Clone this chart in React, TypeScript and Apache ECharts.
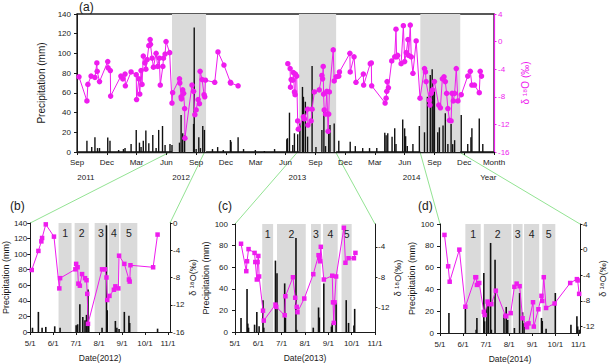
import React, { useEffect, useRef } from 'react';
import * as echarts from 'echarts';

const FONT = '"Liberation Sans", Arial, Helvetica, sans-serif';
const INK = '#1a1a1a';
const MAGENTA = '#ee1cee';
const SHADE = '#dadada';
const LINK = '#93e393';

// ---------- overview axis labels ----------
const overviewMonths = ['Sep', 'Dec', 'Mar', 'Jun'];
const overviewYearLabels = ['2011', '2012', '2013', '2014', 'Year'];
const overviewYearDates = ['2011-09-28', '2012-07-16', '2013-07-07', '2014-06-22', '2015-02-13'];
const seasonTickLabels = ['5/1', '6/1', '7/1', '8/1', '9/1', '10/1', '11/1'];
const periodNames = ['1', '2', '3', '4', '5'];

// ---------- overview: Sep 2011 – Feb 2015 ----------
const rainAll: [string, number][] = [
  ['2011-10-01', 11.5], ['2011-10-16', 5], ['2011-10-26', 15], ['2011-11-03', 4], ['2011-11-09', 4],
  ['2011-12-04', 14.6], ['2011-12-11', 11.5], ['2012-01-07', 2], ['2012-01-22', 3], ['2012-01-27', 4],
  ['2012-02-14', 8], ['2012-02-29', 22.4], ['2012-03-10', 9.5], ['2012-03-15', 5], ['2012-03-22', 11.5],
  ['2012-03-30', 21.7], ['2012-04-08', 9], ['2012-04-20', 17.3], ['2012-04-30', 4], ['2012-05-08', 22.4],
  ['2012-05-20', 26.4], ['2012-05-28', 7], ['2012-06-12', 8], ['2012-06-18', 7], ['2012-07-11', 9.5],
  ['2012-07-16', 37.6], ['2012-07-21', 19], ['2012-07-27', 17], ['2012-08-24', 28.5], ['2012-08-26', 126.4],
  ['2012-09-01', 3], ['2012-09-09', 15], ['2012-09-14', 4], ['2012-09-21', 26.4], ['2012-09-26', 22.4],
  ['2012-10-21', 3], ['2012-11-06', 5], ['2012-11-23', 2], ['2012-12-15', 12.2], ['2012-12-17', 10.5],
  ['2013-01-08', 15], ['2013-01-25', 3], ['2013-02-28', 2], ['2013-03-28', 1], ['2013-04-28', 3],
  ['2013-06-05', 12.9], ['2013-06-07', 14], ['2013-06-13', 39.9], ['2013-06-23', 7], ['2013-06-28', 19],
  ['2013-07-08', 18], ['2013-07-15', 29], ['2013-07-23', 66], ['2013-07-26', 56], ['2013-08-01', 51],
  ['2013-08-08', 15.6], ['2013-08-22', 87.2], ['2013-09-03', 5], ['2013-09-21', 22.3], ['2013-09-27', 43.3],
  ['2013-10-02', 6], ['2013-10-12', 19.6], ['2013-10-16', 27.4], ['2013-10-29', 29], ['2013-11-12', 11.5],
  ['2013-12-17', 10.5], ['2014-01-02', 6], ['2014-01-25', 4], ['2014-02-14', 4], ['2014-03-07', 4],
  ['2014-04-01', 19.6], ['2014-04-05', 17], ['2014-04-10', 19], ['2014-04-23', 15.5], ['2014-05-01', 24],
  ['2014-05-05', 8], ['2014-05-26', 33], ['2014-06-01', 24], ['2014-06-04', 16], ['2014-06-09', 6],
  ['2014-06-26', 8], ['2014-07-16', 26.4], ['2014-08-01', 20], ['2014-08-10', 56], ['2014-08-19', 78],
  ['2014-08-25', 84], ['2014-08-28', 60], ['2014-09-01', 63], ['2014-09-11', 20], ['2014-09-16', 25],
  ['2014-09-27', 27], ['2014-10-04', 39.3], ['2014-10-12', 8], ['2014-10-22', 28.4], ['2014-10-27', 8],
  ['2014-11-02', 12], ['2014-11-22', 37.5], ['2014-12-12', 8], ['2014-12-22', 15], ['2014-12-25', 24],
  ['2015-01-17', 34], ['2015-01-28', 8],
];

const isoAll: [string, number][] = [
  ['2011-09-07', -5.1], ['2011-10-01', -8.6], ['2011-10-04', -6.2], ['2011-10-14', -5.0], ['2011-10-26', -5.2],
  ['2011-11-01', -3.1], ['2011-11-02', -4.3], ['2011-11-09', -5.8], ['2011-12-04', -2.9], ['2011-12-05', -3.8],
  ['2011-12-12', -4.2], ['2011-12-13', -7.9], ['2012-01-14', -5.0], ['2012-01-20', -5.4], ['2012-01-27', -4.7],
  ['2012-01-28', -6.4], ['2012-02-14', -4.4], ['2012-02-29', -4.8], ['2012-03-01', -8.4], ['2012-03-08', -5.4],
  ['2012-03-11', -7.6], ['2012-03-15', -4.2], ['2012-03-18', -6.2], ['2012-03-22', -2.1], ['2012-03-27', -3.1],
  ['2012-03-30', -4.0], ['2012-04-03', -2.6], ['2012-04-08', -0.6], ['2012-04-12', 0.3], ['2012-04-13', -0.4],
  ['2012-04-18', -2.4], ['2012-04-22', -3.7], ['2012-04-30', -1.7], ['2012-05-05', -3.6], ['2012-05-10', -2.4],
  ['2012-05-13', -6.3], ['2012-05-21', -3.6], ['2012-05-23', -2.4], ['2012-05-28', -1.8], ['2012-05-31', 0.0],
  ['2012-06-11', -1.6], ['2012-06-18', -8.9], ['2012-06-20', -7.4], ['2012-07-11', -5.4], ['2012-07-12', -6.0],
  ['2012-07-16', -8.0], ['2012-07-17', -8.3], ['2012-07-21', -7.0], ['2012-07-24', -7.5], ['2012-07-27', -9.7],
  ['2012-07-28', -14.0], ['2012-08-19', -6.3], ['2012-08-24', -7.2], ['2012-08-28', -10.6], ['2012-09-01', -9.9],
  ['2012-09-07', -8.4], ['2012-09-11', -9.0], ['2012-09-13', -4.3], ['2012-09-19', -5.5], ['2012-09-25', -7.7],
  ['2012-09-27', -8.0], ['2012-09-29', -5.6], ['2012-10-28', -5.9], ['2012-11-07', -1.5], ['2012-11-25', -3.4],
  ['2012-12-15', -5.9], ['2012-12-16', -6.0], ['2013-01-08', -6.4],
  ['2013-06-08', -3.2], ['2013-06-15', -3.9], ['2013-06-16', -6.6], ['2013-06-18', -5.5], ['2013-06-23', -5.6],
  ['2013-06-25', -4.5], ['2013-06-28', -7.3], ['2013-06-30', -7.7], ['2013-07-01', -4.7], ['2013-07-05', -5.0],
  ['2013-07-08', -11.5], ['2013-07-10', -12.7], ['2013-07-26', -10.9], ['2013-07-29', -11.2], ['2013-08-08', -9.8],
  ['2013-08-09', -12.1], ['2013-08-19', -11.5], ['2013-08-22', -9.8], ['2013-08-29', -7.3], ['2013-09-13', -7.0],
  ['2013-09-21', -4.9], ['2013-09-23', -5.4], ['2013-09-25', -3.6], ['2013-09-26', -7.6], ['2013-09-28', -9.9],
  ['2013-10-02', -10.5], ['2013-10-06', -7.2], ['2013-10-10', -13.0], ['2013-10-12', -10.5], ['2013-10-14', -7.3],
  ['2013-10-26', -1.2], ['2013-10-29', -5.7], ['2013-11-04', -5.1], ['2013-11-12', -5.0], ['2013-11-14', -4.4],
  ['2013-12-16', -1.7], ['2013-12-17', -4.4], ['2013-12-29', -2.2], ['2014-01-04', -5.9], ['2014-01-27', -4.7],
  ['2014-01-28', -6.3], ['2014-02-16', -3.2], ['2014-02-19', -3.1], ['2014-02-20', -6.4], ['2014-04-02', -8.9],
  ['2014-04-05', -8.2], ['2014-04-07', -7.2], ['2014-04-08', -5.8], ['2014-04-12', -6.7], ['2014-04-22', -2.8],
  ['2014-05-01', -2.2], ['2014-05-05', 1.8], ['2014-05-07', -2.2], ['2014-05-10', -2.0], ['2014-05-21', -3.2],
  ['2014-05-28', 2.3], ['2014-06-01', -2.9], ['2014-06-06', -1.6], ['2014-06-11', 0.3], ['2014-06-13', -2.0],
  ['2014-06-18', 2.4], ['2014-06-21', -2.2], ['2014-06-26', -4.6], ['2014-07-06', 0.1], ['2014-07-18', -8.2],
  ['2014-08-01', -3.9], ['2014-08-04', -4.4], ['2014-08-06', -5.8], ['2014-08-16', -8.5], ['2014-08-18', -9.2],
  ['2014-08-22', -7.5], ['2014-08-26', -7.0], ['2014-09-01', -5.8], ['2014-09-14', -9.2], ['2014-09-19', -9.6],
  ['2014-09-25', -5.4], ['2014-09-30', -5.1], ['2014-10-04', -5.8], ['2014-10-08', -7.5], ['2014-10-12', -9.7],
  ['2014-10-17', -11.4], ['2014-10-22', -11.5], ['2014-10-25', -7.5], ['2014-10-29', -8.6], ['2014-11-02', -7.5],
  ['2014-11-07', -3.9], ['2014-11-12', -8.6], ['2014-11-22', -7.7], ['2014-12-12', -5.0], ['2014-12-20', -4.3],
  ['2014-12-25', -6.3], ['2015-01-02', -6.3], ['2015-01-17', -7.4], ['2015-01-20', -4.3], ['2015-01-24', -5.0],
];

const wetSeasonsAll: [string, string][] = [
  ['2012-06-18', '2012-10-01'], ['2013-07-12', '2013-11-04'], ['2014-07-19', '2014-11-19'],
];
// where the zoom connectors leave the overview axis
const zoomAnchorsAll: [string, string][] = [
  ['2012-06-06', '2012-09-25'], ['2013-07-05', '2013-11-04'], ['2014-07-19', '2014-11-21'],
];

// ---------- 2012 season ----------
const rain2012: [string, number][] = [
  ['2012-05-04', 5.6], ['2012-05-12', 25.8], ['2012-05-17', 5.6], ['2012-05-22', 6.5], ['2012-06-03', 7.3],
  ['2012-06-10', 5.6], ['2012-07-01', 8.6], ['2012-07-03', 9.9], ['2012-07-06', 35.8], ['2012-07-10', 19.4],
  ['2012-07-13', 15], ['2012-07-15', 22], ['2012-07-17', 54.7], ['2012-07-18', 8.6], ['2012-08-05', 5.6],
  ['2012-08-11', 137], ['2012-08-12', 28], ['2012-08-23', 14.2], ['2012-08-25', 5.6], ['2012-08-28', 4],
  ['2012-09-04', 25.8], ['2012-09-10', 21], ['2012-09-11', 11.6], ['2012-10-18', 4.3],
];
const iso2012: [string, number][] = [
  ['2012-05-03', -6.9], ['2012-05-12', -4.1], ['2012-05-16', -2.7], ['2012-05-17', -2.2], ['2012-05-22', -0.2],
  ['2012-06-02', -2.0], ['2012-06-09', -9.6], ['2012-06-10', -8.1], ['2012-06-30', -6.8], ['2012-07-01', -6.0],
  ['2012-07-03', -6.5], ['2012-07-04', -8.9], ['2012-07-06', -9.2], ['2012-07-09', -7.5], ['2012-07-13', -8.1],
  ['2012-07-15', -8.4], ['2012-07-16', -10.4], ['2012-07-17', -14.8], ['2012-08-05', -6.8], ['2012-08-09', -6.8],
  ['2012-08-11', -8.0], ['2012-08-12', -11.3], ['2012-08-15', -10.7], ['2012-08-21', -9.8], ['2012-08-23', -9.3],
  ['2012-08-27', -9.6], ['2012-08-28', -4.8], ['2012-09-04', -6.0], ['2012-09-10', -8.3], ['2012-09-11', -8.6],
  ['2012-09-12', -6.2], ['2012-10-12', -6.5], ['2012-10-18', -1.7],
];
const periods2012: [string, string][] = [
  ['2012-06-08', '2012-06-25'], ['2012-06-29', '2012-07-18'], ['2012-07-26', '2012-08-12'],
  ['2012-08-14', '2012-08-28'], ['2012-08-30', '2012-09-21'],
];

// ---------- 2013 season ----------
const rain2013: [string, number][] = [
  ['2013-05-09', 13], ['2013-05-17', 39.8], ['2013-05-18', 7.8], ['2013-05-19', 4], ['2013-05-27', 6.8],
  ['2013-05-30', 18.6], ['2013-06-02', 5.3], ['2013-06-07', 29.5], ['2013-06-08', 4], ['2013-06-23', 66.1],
  ['2013-06-25', 54.3], ['2013-07-05', 45], ['2013-07-06', 13], ['2013-07-20', 87], ['2013-07-21', 2],
  ['2013-08-12', 4], ['2013-08-19', 22.7], ['2013-08-20', 13.4], ['2013-08-26', 45], ['2013-09-05', 5],
  ['2013-09-06', 8], ['2013-09-11', 27], ['2013-09-24', 29.5], ['2013-09-27', 8.4], ['2013-10-04', 6],
  ['2013-10-05', 21.4],
];
const iso2013: [string, number][] = [
  ['2013-05-09', -3.6], ['2013-05-16', -7.2], ['2013-05-17', -5.9], ['2013-05-19', -4.3], ['2013-05-27', -4.8],
  ['2013-05-28', -6.0], ['2013-05-30', -8.3], ['2013-05-31', -6.0], ['2013-06-01', -5.2], ['2013-06-02', -7.9],
  ['2013-06-07', -12.4], ['2013-06-08', -13.7], ['2013-06-23', -11.6], ['2013-06-24', -11.9], ['2013-07-05', -13.0],
  ['2013-07-06', -10.5], ['2013-07-16', -8.0], ['2013-07-19', -10.7], ['2013-07-21', -11.9], ['2013-07-22', -12.6],
  ['2013-07-31', -10.8], ['2013-08-12', -7.6], ['2013-08-19', -5.1], ['2013-08-20', -5.4], ['2013-08-21', -5.9],
  ['2013-08-22', -4.0], ['2013-08-26', -8.3], ['2013-09-06', -7.8], ['2013-09-07', -11.3], ['2013-09-08', -14.0],
  ['2013-09-09', -11.3], ['2013-09-11', -7.9], ['2013-09-21', -1.5], ['2013-09-23', -6.1], ['2013-09-27', -5.5],
  ['2013-10-04', -5.5], ['2013-10-06', -4.8],
];
const periods2013: [string, string][] = [
  ['2013-06-06', '2013-06-20'], ['2013-06-25', '2013-08-02'], ['2013-08-09', '2013-08-22'],
  ['2013-08-25', '2013-09-13'], ['2013-09-18', '2013-10-01'],
];

// ---------- 2014 season ----------
const rain2014: [string, number][] = [
  ['2014-05-13', 18.3], ['2014-06-04', 22], ['2014-06-18', 3], ['2014-06-19', 13.8], ['2014-06-28', 55],
  ['2014-06-29', 10.7], ['2014-07-02', 27.5], ['2014-07-04', 28], ['2014-07-07', 82.6], ['2014-07-08', 3],
  ['2014-07-13', 67.3], ['2014-07-25', 16.8], ['2014-07-28', 23.9], ['2014-07-30', 12], ['2014-08-08', 4.6],
  ['2014-08-15', 36.7], ['2014-08-19', 19], ['2014-08-21', 9], ['2014-09-13', 13.8], ['2014-09-14', 11],
  ['2014-09-19', 4], ['2014-10-01', 36.7], ['2014-10-22', 7.6], ['2014-10-30', 15.3], ['2014-10-31', 6],
  ['2014-11-02', 3],
];
const iso2014: [string, number][] = [
  ['2014-05-07', 2.3], ['2014-05-12', -2.6], ['2014-05-14', -5.0], ['2014-05-27', 0.0], ['2014-06-04', -8.9],
  ['2014-06-17', -4.3], ['2014-06-18', -4.3], ['2014-06-19', -5.5], ['2014-06-22', -5.2], ['2014-06-28', -9.7],
  ['2014-06-29', -10.2], ['2014-07-03', -8.1], ['2014-07-04', -8.5], ['2014-07-08', -8.5], ['2014-07-14', -6.4],
  ['2014-07-27', -10.3], ['2014-07-28', -10.4], ['2014-08-03', -9.9], ['2014-08-08', -5.8], ['2014-08-11', -5.3],
  ['2014-08-15', -5.7], ['2014-08-19', -10.7], ['2014-08-24', -11.7], ['2014-08-25', -12.1], ['2014-08-27', -11.5],
  ['2014-09-02', -8.2], ['2014-09-03', -12.0], ['2014-09-09', -9.3], ['2014-09-13', -7.2], ['2014-09-14', -8.0],
  ['2014-09-16', -4.3], ['2014-09-19', -9.1], ['2014-09-30', -8.4], ['2014-10-21', -5.2], ['2014-10-30', -4.6],
  ['2014-10-31', -4.8], ['2014-11-02', -6.9],
];
const periods2014: [string, string][] = [
  ['2014-06-04', '2014-06-24'], ['2014-06-28', '2014-08-04'], ['2014-08-06', '2014-08-19'],
  ['2014-08-21', '2014-09-10'], ['2014-09-14', '2014-10-01'],
];

// ---------- helpers ----------
// fractional months elapsed since the first day of (y0, m0)
function monthsFrom(date: string, y0: number, m0: number): number {
  const [y, m, d] = date.split('-').map(Number);
  const daysInMonth = new Date(y, m, 0).getDate();
  return (y - y0) * 12 + (m - m0) + (d - 1) / daysInMonth;
}

function toBars(points: [string, number][], y0: number, m0: number) {
  return points.map(([d, v]) => [monthsFrom(d, y0, m0), v]);
}

// breaks the line wherever sampling pauses for longer than maxGap months
function toLine(points: [string, number][], y0: number, m0: number, maxGap = 3) {
  const out: any[] = [];
  let prev: number | null = null;
  for (const [d, v] of points) {
    const x = monthsFrom(d, y0, m0);
    if (prev !== null && x - prev > maxGap) out.push([(x + prev) / 2, null]);
    out.push([x, v]);
    prev = x;
  }
  return out;
}

function toAreas(periods: [string, string][], y0: number, m0: number, named: boolean) {
  return periods.map(([s, e], i) => [
    { name: named ? periodNames[i] : '', xAxis: monthsFrom(s, y0, m0) },
    { xAxis: monthsFrom(e, y0, m0) },
  ]);
}

const label = (extra: any = {}) => ({ fontFamily: FONT, color: INK, fontSize: 8, ...extra });

// ---------- layout ----------
const OVERVIEW = { left: 77, top: 14, width: 417, height: 138, xMax: 42 };

const SEASONS = [
  {
    tag: '(b)', year: 2012, rain: rain2012, iso: iso2012, periods: periods2012,
    grid: { left: 28, top: 223, width: 142, height: 109 }, xMax: 6.09,
    rainMax: 140, isoMin: -16, isoMax: 0, isoTicks: [-16, -12, -8, -4, 0],
    leftMargin: 3, leftGap: 12, rightGap: 15,
  },
  {
    tag: '(c)', year: 2013, rain: rain2013, iso: iso2013, periods: periods2013,
    grid: { left: 235, top: 224, width: 140, height: 108 }, xMax: 6.0,
    rainMax: 100, isoMin: -15.2, isoMax: -1, isoTicks: [-12, -8, -4],
    leftMargin: 7, leftGap: 19, rightGap: 17,
  },
  {
    tag: '(d)', year: 2014, rain: rain2014, iso: iso2014, periods: periods2014,
    grid: { left: 440, top: 224, width: 140, height: 109 }, xMax: 6.07,
    rainMax: 100, isoMin: -13, isoMax: 4, isoTicks: [-12, -8, -4, 0, 4],
    leftMargin: 6, leftGap: 19, rightGap: 18,
  },
];

const axisBlack = { show: true, lineStyle: { color: INK, width: 1 } };

function buildOption() {
  const grid: any[] = [
    {
      left: OVERVIEW.left, top: OVERVIEW.top, width: OVERVIEW.width, height: OVERVIEW.height,
      show: true, borderColor: '#222', borderWidth: 1.3, backgroundColor: 'transparent',
    },
    ...SEASONS.map((s) => ({ ...s.grid })),
  ];

  const xAxis: any[] = [
    {
      gridIndex: 0, type: 'value', min: 0, max: OVERVIEW.xMax, interval: 3,
      axisLine: { show: true, onZero: false, lineStyle: { color: INK, width: 1.3 } },
      axisTick: { show: true, length: 3, lineStyle: { color: INK } },
      axisLabel: label({
        margin: 6,
        formatter: (v: number) => (v >= OVERVIEW.xMax ? 'Month' : overviewMonths[Math.round(v / 3) % 4]),
      }),
      splitLine: { show: false },
    },
    ...SEASONS.map((s, i) => ({
      gridIndex: i + 1, type: 'value', min: 0, max: s.xMax, interval: 1,
      axisLine: { ...axisBlack, onZero: false },
      axisTick: { show: true, length: 3, lineStyle: { color: INK }, customValues: [0, 1, 2, 3, 4, 5, 6] },
      axisLabel: label({
        margin: 7,
        customValues: [0, 1, 2, 3, 4, 5, 6],
        formatter: (v: number) => (Math.abs(v - Math.round(v)) < 1e-6 ? seasonTickLabels[Math.round(v)] ?? '' : ''),
      }),
      splitLine: { show: false },
      name: `Date(${s.year})`, nameLocation: 'middle', nameGap: 21,
      nameTextStyle: label({ fontSize: 8.5 }),
    })),
  ];

  const yAxis: any[] = [
    {
      gridIndex: 0, type: 'value', min: 0, max: 140, interval: 20, position: 'left',
      axisLine: axisBlack, axisTick: { show: true, length: 3, lineStyle: { color: INK } },
      axisLabel: label({ margin: 6 }), splitLine: { show: false },
      name: 'Precipitation (mm)', nameLocation: 'middle', nameGap: 22,
      nameTextStyle: label({ fontSize: 10 }),
    },
    {
      gridIndex: 0, type: 'value', min: -16, max: 4, interval: 4, position: 'right',
      axisLine: { show: true, lineStyle: { color: MAGENTA, width: 1.2 } },
      axisTick: { show: true, length: 2.5, lineStyle: { color: MAGENTA } },
      axisLabel: label({ margin: 4, color: MAGENTA }), splitLine: { show: false },
      name: 'δ ¹⁸O (‰)', nameLocation: 'middle', nameGap: 20,
      nameTextStyle: label({ fontSize: 10, color: MAGENTA }),
    },
  ];
  SEASONS.forEach((s, i) => {
    yAxis.push({
      gridIndex: i + 1, type: 'value', min: 0, max: s.rainMax, interval: 20, position: 'left',
      axisLine: axisBlack, axisTick: { show: true, length: 3, lineStyle: { color: INK } },
      axisLabel: label({ margin: s.leftMargin }), splitLine: { show: false },
      name: 'Precipitation (mm)', nameLocation: 'middle', nameGap: s.leftGap,
      nameTextStyle: label({ fontSize: 9 }),
    });
    yAxis.push({
      gridIndex: i + 1, type: 'value', min: s.isoMin, max: s.isoMax, position: 'right',
      axisLine: axisBlack,
      axisTick: { show: true, length: 2.5, lineStyle: { color: INK }, customValues: s.isoTicks },
      axisLabel: label({ margin: 3, customValues: s.isoTicks }), splitLine: { show: false },
      name: 'δ ¹⁸O(‰)', nameLocation: 'middle', nameGap: s.rightGap,
      nameTextStyle: label({ fontSize: 9 }),
    });
  });

  const series: any[] = [
    {
      type: 'line', xAxisIndex: 0, yAxisIndex: 0, data: [], z: 1, silent: true,
      markArea: {
        silent: true, itemStyle: { color: SHADE }, label: { show: false },
        data: toAreas(wetSeasonsAll, 2011, 9, false),
      },
    },
    {
      type: 'bar', xAxisIndex: 0, yAxisIndex: 0, data: toBars(rainAll, 2011, 9),
      barWidth: 1.4, itemStyle: { color: '#111' }, z: 2, silent: true,
    },
    {
      type: 'line', xAxisIndex: 0, yAxisIndex: 1, data: toLine(isoAll, 2011, 9),
      symbol: 'circle', symbolSize: 5.5, showAllSymbol: true,
      lineStyle: { color: MAGENTA, width: 1 }, itemStyle: { color: MAGENTA }, z: 3, silent: true,
    },
  ];
  SEASONS.forEach((s, i) => {
    const xi = i + 1;
    series.push({
      type: 'line', xAxisIndex: xi, yAxisIndex: 2 + i * 2, data: [], z: 1, silent: true,
      markArea: {
        silent: true, itemStyle: { color: SHADE },
        label: { show: true, position: 'insideTop', distance: 4, color: '#222', fontSize: 10.5, fontFamily: FONT },
        data: toAreas(s.periods, s.year, 5, true),
      },
    });
    series.push({
      type: 'bar', xAxisIndex: xi, yAxisIndex: 2 + i * 2, data: toBars(s.rain, s.year, 5),
      barWidth: 1.6, itemStyle: { color: '#111' }, z: 2, silent: true,
    });
    series.push({
      type: 'line', xAxisIndex: xi, yAxisIndex: 3 + i * 2, data: toLine(s.iso, s.year, 5),
      symbol: 'rect', symbolSize: 4.5, showAllSymbol: true,
      lineStyle: { color: MAGENTA, width: 1 }, itemStyle: { color: MAGENTA }, z: 3, silent: true,
    });
  });

  return {
    animation: false,
    backgroundColor: '#ffffff',
    textStyle: { fontFamily: FONT },
    grid, xAxis, yAxis, series,
  };
}

function buildGraphics(chart: echarts.ECharts) {
  const px = (axis: number, v: number) => chart.convertToPixel({ xAxisIndex: axis }, v) as number;
  const py = (axis: number, v: number) => chart.convertToPixel({ yAxisIndex: axis }, v) as number;
  const items: any[] = [];

  // zoom connectors from the overview axis to the season panels
  const baseY = py(0, 0);
  SEASONS.forEach((s, i) => {
    const [from, to] = zoomAnchorsAll[i];
    const topY = py(2 + i * 2, s.rainMax);
    const corners = [px(i + 1, 0), px(i + 1, s.xMax)];
    [from, to].forEach((d, k) => {
      items.push({
        type: 'line', silent: true, z: 0,
        shape: { x1: px(0, monthsFrom(d, 2011, 9)), y1: baseY + 1, x2: corners[k], y2: topY },
        style: { stroke: LINK, lineWidth: 1 },
      });
    });
  });

  // year row under the overview month labels
  overviewYearLabels.forEach((t, i) => {
    items.push({
      type: 'text', silent: true,
      x: px(0, monthsFrom(overviewYearDates[i], 2011, 9)), y: 177,
      style: { text: t, fill: INK, font: `8px ${FONT}`, textAlign: 'center', textVerticalAlign: 'middle' },
    });
  });

  // panel tags
  const tags: [string, number, number][] = [
    ['(a)', 79, 7], ['(b)', 10, 206], ['(c)', 218, 206], ['(d)', 418, 206],
  ];
  tags.forEach(([t, x, y]) => {
    items.push({
      type: 'text', silent: true, x, y,
      style: { text: t, fill: INK, font: `12px ${FONT}`, textAlign: 'left', textVerticalAlign: 'middle' },
    });
  });

  return items;
}

export default function App() {
  const ref = useRef<HTMLDivElement>(null);
  useEffect(() => {
    if (!ref.current) return;
    const chart = echarts.init(ref.current, undefined, { renderer: 'svg' });
    chart.setOption(buildOption());
    chart.setOption({ graphic: buildGraphics(chart) });
    return () => chart.dispose();
  }, []);
  return (
    <div
      ref={ref}
      style={{ position: 'fixed', left: 0, top: 0, width: 609, height: 364, background: '#fff' }}
    />
  );
}
